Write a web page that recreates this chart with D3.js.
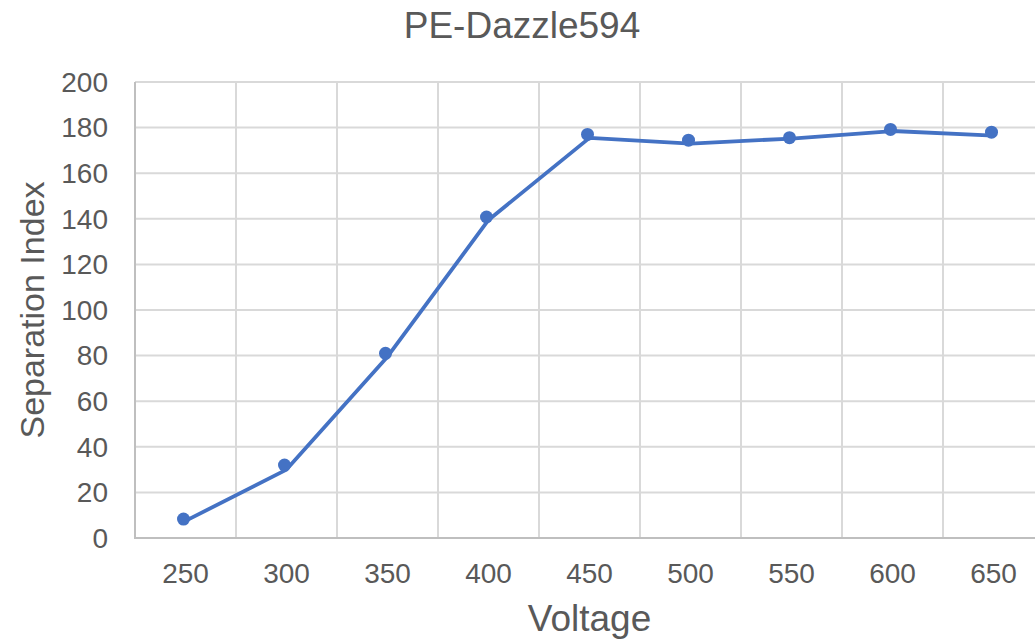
<!DOCTYPE html>
<html><head><meta charset="utf-8">
<script src="https://cdn.jsdelivr.net/npm/d3@7"></script>
<style>body{margin:0;background:#fff}svg{display:block}text{font-family:"Liberation Sans",Arial,sans-serif;fill:#595959}</style>
</head><body>
<script>
const categories = ["250","300","350","400","450","500","550","600","650"];
const lineValues = [7.5, 30, 79.5, 139.5, 175.5, 173, 175.2, 178.5, 176.5];
const markerValues = [8.3, 32, 81, 140.8, 177, 174.5, 175.6, 179.2, 178];
const yTicks = [0,20,40,60,80,100,120,140,160,180,200];
const title = "PE-Dazzle594";
const xTitle = "Voltage";
const yTitle = "Separation Index";

const W = 1035, H = 641;
const svg = d3.select("body").append("svg").attr("width", W).attr("height", H);
const x = d3.scaleBand().domain(categories).range([135, 1044]);
const y = d3.scaleLinear().domain([0, 200]).range([538, 82]);

// horizontal gridlines
svg.append("g").selectAll("line").data(yTicks.filter(d => d > 0)).join("line")
  .attr("x1", 135).attr("x2", 1044).attr("y1", d => y(d)).attr("y2", d => y(d))
  .attr("stroke", "#d9d9d9").attr("stroke-width", 2);
// vertical gridlines at band boundaries
const bounds = categories.map(c => x(c)).concat([x.range()[1]]);
svg.append("g").selectAll("line").data(bounds.slice(1)).join("line")
  .attr("x1", d => d).attr("x2", d => d).attr("y1", 82).attr("y2", 538)
  .attr("stroke", "#d9d9d9").attr("stroke-width", 2);
// left axis line
svg.append("line").attr("x1", 135).attr("x2", 135).attr("y1", 82).attr("y2", 538)
  .attr("stroke", "#bfbfbf").attr("stroke-width", 2);
// bottom axis line
svg.append("line").attr("x1", 134).attr("x2", 1044).attr("y1", y(0)).attr("y2", y(0))
  .attr("stroke", "#bfbfbf").attr("stroke-width", 2);

// y tick labels
svg.append("g").selectAll("text").data(yTicks).join("text")
  .attr("x", 108).attr("y", d => y(d)).attr("dy", "0.35em")
  .attr("text-anchor", "end").attr("font-size", 28).text(d => d);
// x tick labels
svg.append("g").selectAll("text").data(categories).join("text")
  .attr("x", d => x(d) + x.bandwidth() / 2).attr("y", 583)
  .attr("text-anchor", "middle").attr("font-size", 28).text(d => d);

// line
const line = d3.line().x((d, i) => x(categories[i]) + x.bandwidth() / 2).y(d => y(d));
svg.append("path").datum(lineValues).attr("d", line)
  .attr("fill", "none").attr("stroke", "#4472C4").attr("stroke-width", 3.8)
  .attr("stroke-linejoin", "round").attr("stroke-linecap", "round");
// markers
svg.append("g").selectAll("circle").data(markerValues).join("circle")
  .attr("cx", (d, i) => x(categories[i]) + x.bandwidth() / 2 - 2)
  .attr("cy", d => y(d)).attr("r", 6.5).attr("fill", "#4472C4");

// titles
svg.append("text").attr("x", 522).attr("y", 38).attr("text-anchor", "middle")
  .attr("font-size", 37).text(title);
svg.append("text").attr("x", (135 + 1044) / 2).attr("y", 631).attr("text-anchor", "middle")
  .attr("font-size", 37).text(xTitle);
svg.append("text").attr("transform", "translate(44," + ((82 + 538) / 2) + ") rotate(-90)")
  .attr("text-anchor", "middle").attr("font-size", 34).text(yTitle);
</script>
</body></html>
